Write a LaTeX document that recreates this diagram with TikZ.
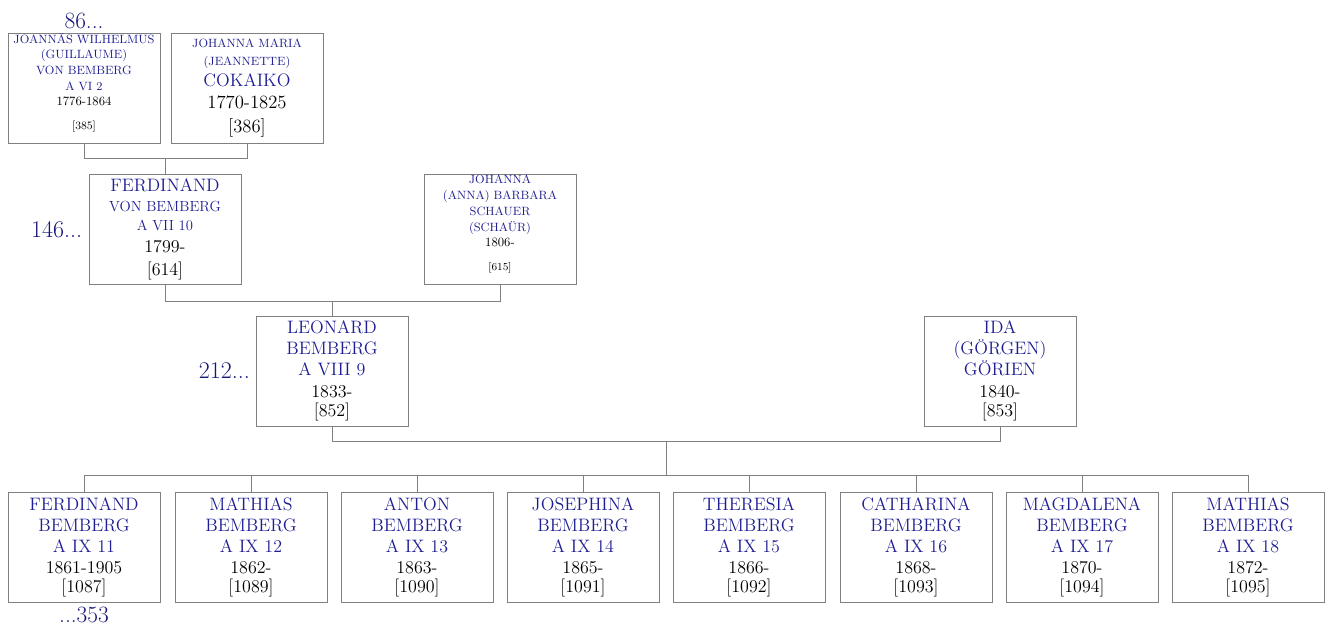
\documentclass[tikz,border=0pt]{standalone}
\usepackage{tikz}
\usetikzlibrary{positioning,calc}

\definecolor{nameblue}{RGB}{30,30,146}
\definecolor{genblue}{RGB}{22,22,120}
\definecolor{linegray}{RGB}{128,128,128}

\newcommand{\nm}[1]{\textcolor{nameblue}{#1}}
\newcommand{\fs}[1]{\fontsize{#1}{#1}\selectfont}

\begin{document}
\begin{tikzpicture}[
    x=0.75pt, y=-0.75pt,
    person/.style={draw=linegray, line width=0.75pt, minimum width=114pt, minimum height=82.5pt,
        inner sep=0pt, align=center, font={\fontsize{13.5}{15.9}\selectfont\lineskiplimit=-20pt}},
    smallperson/.style={person, font={\fontsize{9}{11.8}\selectfont\lineskiplimit=-20pt}, text depth=10pt},
    link/.style={draw=linegray, line width=0.75pt},
    gen/.style={text=genblue, font=\fontsize{18}{20}\selectfont, inner sep=0pt}
]
    \useasboundingbox (0,0) rectangle (1329,626);

    % Generation VI
    \node[smallperson] (p385) at (84,88)
        {\nm{JOANN\"AS WILHELMUS}\\ \nm{(GUILLAUME)}\\ \nm{VON BEMBERG}\\ \nm{A VI 2}\\
         {\fs{9.5}1776-1864}\\[6pt] {\fs{8.5}[385]}};
    \node[person, font={\fontsize{9}{11.8}\selectfont\lineskiplimit=-20pt}] (p386) at (247,88)
        {\nm{JOHANNA MARIA}\\[1.7pt] \nm{(JEANNETTE)}\\[4pt] \nm{\fs{13.5}COKAIKO}\\[4.7pt]
         {\fs{14}1770-1825}\\[5.5pt] {\fs{14}[386]}};

    % Generation VII
    \node[person] (p614) at (165,229.5)
        {\nm{FERDINAND}\\[-1pt] \nm{\fs{11}VON BEMBERG}\\[-2pt] \nm{\fs{11}A VII 10}\\[1pt]
         1799-\\[1pt] {[614]}};
    \node[smallperson] (p615) at (500,229.5)
        {\nm{JOHANNA}\\ \nm{(ANNA) BARBARA}\\ \nm{SCHAUER}\\ \nm{(SCHA\"UR)}\\
         {\fs{9.5}1806-}\\[6pt] {\fs{8}[615]}};

    % Generation VIII
    \node[person] (p852) at (332,371)
        {\nm{LEONARD}\\ \nm{BEMBERG}\\ \nm{A VIII 9}\\ 1833-\\[-1pt] {[852]}};
    \node[person] (p853) at (1000,371)
        {\nm{IDA}\\ \nm{(G\"ORGEN)}\\ \nm{G\"ORIEN}\\ 1840-\\[-1pt] {[853]}};

    % Generation IX
    \node[person] (p1087) at (84,547)
        {\nm{FERDINAND}\\ \nm{BEMBERG}\\ \nm{A IX 11}\\ 1861-1905\\[-2pt] {[1087]}};
    \node[person] (p1089) at (251,547)
        {\nm{MATHIAS}\\ \nm{BEMBERG}\\ \nm{A IX 12}\\ 1862-\\[-2pt] {[1089]}};
    \node[person] (p1090) at (417,547)
        {\nm{ANTON}\\ \nm{BEMBERG}\\ \nm{A IX 13}\\ 1863-\\[-2pt] {[1090]}};
    \node[person] (p1091) at (583,547)
        {\nm{JOSEPHINA}\\ \nm{BEMBERG}\\ \nm{A IX 14}\\ 1865-\\[-2pt] {[1091]}};
    \node[person] (p1092) at (749,547)
        {\nm{THERESIA}\\ \nm{BEMBERG}\\ \nm{A IX 15}\\ 1866-\\[-2pt] {[1092]}};
    \node[person] (p1093) at (916,547)
        {\nm{CATHARINA}\\ \nm{BEMBERG}\\ \nm{A IX 16}\\ 1868-\\[-2pt] {[1093]}};
    \node[person] (p1094) at (1082,547)
        {\nm{MAGDALENA}\\ \nm{BEMBERG}\\ \nm{A IX 17}\\ 1870-\\[-2pt] {[1094]}};
    \node[person] (p1095) at (1248,547)
        {\nm{MATHIAS}\\ \nm{BEMBERG}\\ \nm{A IX 18}\\ 1872-\\[-2pt] {[1095]}};

    % Family links
    \draw[link] (p385.south) -- ++(0,15) coordinate (j1) -| (p386.south);
    \draw[link] (p614.north) -- (p614.north |- j1);
    \draw[link] (p614.south) -- ++(0,16) coordinate (j2) -| (p615.south);
    \draw[link] (p852.north) -- (p852.north |- j2);
    \draw[link] (p852.south) -- ++(0,15) coordinate (j3) -| (p853.south);
    \coordinate (j4) at ($(j3)!0.5!(j3 -| p853.south)$);
    \draw[link] (p1087.north) -- ++(0,-16) coordinate (k) -| (p1095.north);
    \draw[link] (j4) -- (j4 |- k);
    \foreach \c in {1089,1090,1091,1092,1093,1094}
        \draw[link] (p\c.north) -- (p\c.north |- k);

    % Generation numbers
    \node[gen, anchor=south, font=\fontsize{17.5}{20}\selectfont] (g86) at ($(p385.north)+(0,-3)$) {86...};
    \node[gen, left=4.5pt of p614] (g146) {146...};
    \node[gen, left=4pt of p852] (g212) {212...};
    \node[gen, anchor=north, font=\fontsize{17.5}{20}\selectfont] (g353) at ($(p1087.south)+(0,4)$) {...353};
\end{tikzpicture}
\end{document}
